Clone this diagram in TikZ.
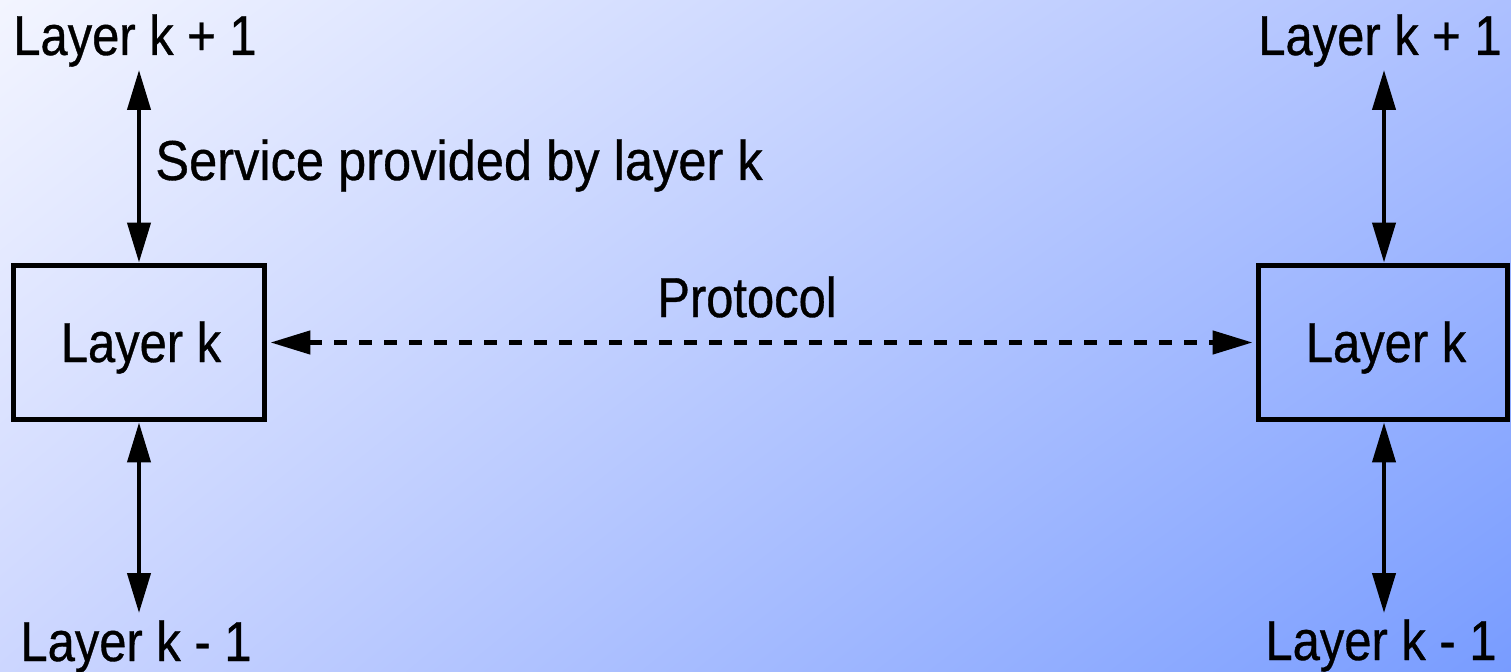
\documentclass[tikz,border=0pt]{standalone}
\usepackage{fontspec}
\setmainfont[FakeStretch=0.87, FakeBold=0.6]{Liberation Sans}
\newfontfamily\widelabelfont[FakeStretch=0.9, FakeBold=0.6]{Liberation Sans}
\usetikzlibrary{arrows.meta,shadings}

\definecolor{bgUL}{HTML}{F3F5FF}
\definecolor{bgUR}{HTML}{ADC0FF}
\definecolor{bgLL}{HTML}{CCD6FF}
\definecolor{bgLR}{HTML}{789CFF}

\tikzset{
  lbl/.style={font=\fontsize{32}{38}\selectfont, inner sep=0pt, anchor=base},
  layerbox/.style={draw=black, line width=0.1cm, fill=none,
    minimum height=3.1cm, inner sep=0pt},
  biarrow/.style={line width=0.085cm,
    {Triangle[length=0.8cm, width=0.46cm]}-{Triangle[length=0.8cm, width=0.46cm]}},
  protoarrow/.style={biarrow, line width=0.095cm, dash pattern=on 0.26cm off 0.24cm}
}

\begin{document}
\begin{tikzpicture}[x=0.02cm, y=-0.02cm]
  % background
  \useasboundingbox (0,0) rectangle (1511,672);
  \shade[upper left=bgUL, upper right=bgUR, lower left=bgLL, lower right=bgLR]
    (0,0) rectangle (1511,672);

  % the two layer-k entities
  \node[layerbox, minimum width=5.02cm] (lbox) at (139,342.5) {};
  \node[layerbox, minimum width=4.98cm] (rbox) at (1383,342.5) {};
  \node[lbl] (ltext) at (141,362) {Layer k};
  \node[lbl] (rtext) at (1386,362) {Layer k};

  % neighbouring layers
  \node[lbl] (lup)   at (135,55)  {Layer k + 1};
  \node[lbl] (rup)   at (1380,55) {Layer k + 1};
  \node[lbl] (ldown) at (136,661) {Layer k - 1};
  \node[lbl] (rdown) at (1381,660) {Layer k - 1};

  % labels
  \node[lbl, anchor=base west, font=\widelabelfont\fontsize{32}{38}\selectfont]
    (service) at (155,180) {Service provided by layer k};
  \node[lbl] (proto) at (747,317) {Protocol};

  % arrow end points next to the layer labels
  \coordinate (lupend)   at (139,70);
  \coordinate (rupend)   at (1384,70);
  \coordinate (ldownend) at (139,613);
  \coordinate (rdownend) at (1384,613);

  % service interfaces
  \draw[biarrow] (lupend) -- (lbox.north);
  \draw[biarrow] (lbox.south) -- (ldownend);
  \draw[biarrow] (rupend) -- (rbox.north -| rupend);
  \draw[biarrow] (rbox.south -| rdownend) -- (rdownend);

  % peer protocol
  \draw[protoarrow] ([xshift=2]lbox.east) -- ([xshift=-2]rbox.west);
\end{tikzpicture}
\end{document}
